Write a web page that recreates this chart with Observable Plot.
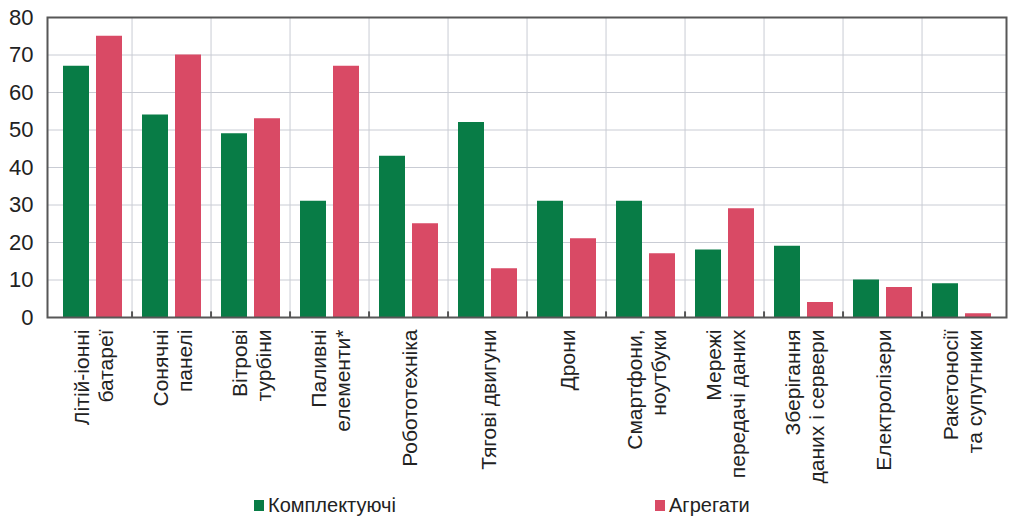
<!DOCTYPE html>
<html>
<head>
<meta charset="utf-8">
<script src="https://cdn.jsdelivr.net/npm/d3@7"></script>
<script src="https://cdn.jsdelivr.net/npm/@observablehq/plot@0.6"></script>
<style>
  body { margin: 0; background: #fff; font-family: "Liberation Sans", Arial, sans-serif; }
  #legend { position: relative; height: 30px; font-size: 20px; color: #222; }
  .item { position: absolute; top: 4px; display: flex; align-items: center; }
  .sw { width: 10px; height: 11px; margin-right: 4px; }
</style>
</head>
<body>
<div id="chart"></div>
<div id="legend"></div>
<script>
const categories = [
  "Літій-іонні\nбатареї", "Сонячні\nпанелі", "Вітрові\nтурбіни", "Паливні\nелементи*",
  "Робототехніка", "Тягові двигуни", "Дрони", "Смартфони,\nноутбуки",
  "Мережі\nпередачі даних", "Зберігання\nданих і сервери", "Електролізери", "Ракетоносії\nта супутники"
];
const components = [67, 54, 49, 31, 43, 52, 31, 31, 18, 19, 10, 9];
const aggregates = [75, 70, 53, 67, 25, 13, 21, 17, 29, 4, 8, 1];
const yTicks = [0, 10, 20, 30, 40, 50, 60, 70, 80];
const seriesNames = ["Комплектуючі", "Агрегати"];
const colors = ["#087c46", "#d94a65"];

const W = 1024, H = 490, mL = 47, mR = 18, mT = 17, mB = 173;
const step = (W - mL - mR) / categories.length;

const compData = categories.map((c, i) => ({cat: c, v: components[i]}));
const aggData = categories.map((c, i) => ({cat: c, v: aggregates[i]}));

const chart = Plot.plot({
  width: W, height: H,
  marginLeft: mL, marginRight: mR, marginTop: mT, marginBottom: mB,
  style: {fontFamily: "Liberation Sans, Arial, sans-serif", fontSize: "21px", color: "#222"},
  x: {domain: categories, padding: 0, label: null, axis: null},
  y: {domain: [0, 80], label: null},
  marks: [
    Plot.ruleY(yTicks.slice(1, -1), {stroke: "#c9ccd4", strokeWidth: 1}),
    Plot.ruleX(categories.slice(1), {x: d => d, dx: -step / 2, stroke: "#c9ccd4", strokeWidth: 1}),
    Plot.barY(compData, {x: "cat", y: "v", fill: colors[0], insetLeft: 10, insetRight: 43}),
    Plot.barY(aggData, {x: "cat", y: "v", fill: colors[1], insetLeft: 43, insetRight: 10}),
    Plot.ruleX(categories.slice(1), {x: d => d, dx: -step / 2, y1: 0, y2: 1.5, stroke: "#555", strokeWidth: 2}),
    Plot.frame({stroke: "#575757", strokeWidth: 2}),
    Plot.axisY({ticks: yTicks, tickSize: 0, tickPadding: 14, fontSize: 22, tickFormat: d => d}),
    Plot.text(categories, {
      x: d => d, text: d => d, frameAnchor: "bottom", rotate: -90,
      textAnchor: "end", lineAnchor: "middle", lineHeight: 1.14,
      dy: 12, fontSize: 21, fill: "#222"
    })
  ]
});
document.getElementById("chart").appendChild(chart);

const legend = document.getElementById("legend");
const lx = [254, 655];
seriesNames.forEach((n, i) => {
  const it = document.createElement("div");
  it.className = "item";
  it.style.left = lx[i] + "px";
  it.innerHTML = `<span class="sw" style="background:${colors[i]}"></span><span>${n}</span>`;
  legend.appendChild(it);
});
</script>
</body>
</html>
